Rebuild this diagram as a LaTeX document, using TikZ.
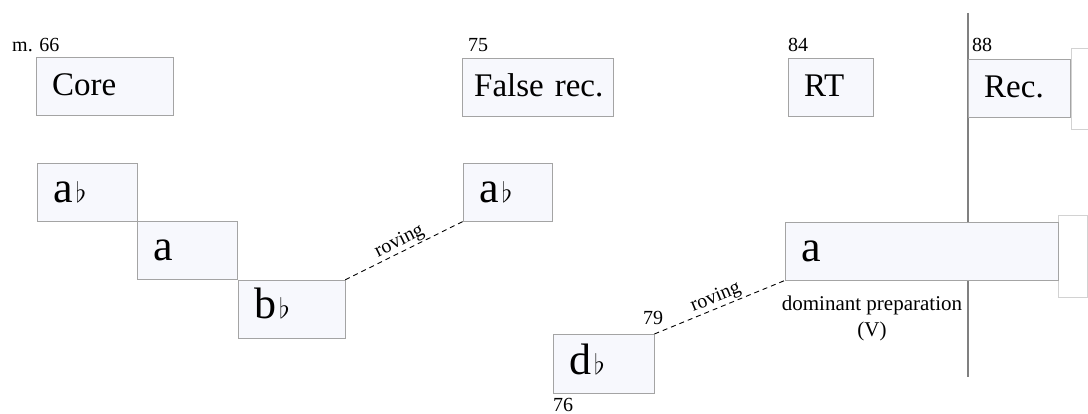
\documentclass[tikz,border=0pt]{standalone}
\usepackage{amssymb}
\usepackage{fix-cm}
\usepackage{fontspec}
\setmainfont{Liberation Serif}
\usetikzlibrary{positioning}

\definecolor{segfill}{HTML}{F7F8FD}
\definecolor{segline}{HTML}{A4A4A4}
\definecolor{ghostline}{HTML}{D2D2D2}
\definecolor{barline}{HTML}{808080}

\newcommand{\flt}{\hspace{3pt}{\fontsize{28}{28}\selectfont$\flat$}}

\tikzset{
    seg/.style={draw=segline, fill=segfill, anchor=north west,
        inner xsep=16pt, inner ysep=0pt, text height=38pt, text depth=20pt,
        text width=#1, align=left, font=\fontsize{33}{38}\selectfont},
    key/.style={font=\fontsize{44}{48}\selectfont, text height=39pt, text depth=19pt},
    ghost/.style={draw=ghostline, fill=white, anchor=north west, inner sep=0pt},
    mlabel/.style={font=\fontsize{20}{26}\selectfont, inner sep=0pt},
    rove/.style={dash pattern=on 5pt off 4pt, line width=0.9pt},
}

\begin{document}
\begin{tikzpicture}[x=1pt, y=-1pt]
    \useasboundingbox (0,0) rectangle (1088,414);

        % --- 分界竖线 ---
        \coordinate (bartop) at (968,13);
        \coordinate (barbot) at (968,377);
        \draw[barline, line width=1.1pt] (bartop) -- (barbot);

        % --- 第一行: 段落名称 ---
        \node[seg=105pt] (core) at (36,57) {Core};
        \node[seg=127pt, inner xsep=12pt] (falserec) at (462,58) {False~rec.};
        \node[seg=53pt] (rt) at (788,58) {RT};
        \node[ghost, minimum width=40pt, minimum height=81pt] (nextup) at (1071,48) {};
        \node[seg=70pt] (rec) at (968,59) {Rec.};

        % 小节号
        \node[mlabel, anchor=base west] (m66) at (12,52) {m. 66};
        \node[mlabel, anchor=base west] (m75) at (468,52) {75};
        \node[mlabel, anchor=base west] (m84) at (788,52) {84};
        \node[mlabel, anchor=base west] (m88) at (972,52) {88};

        % --- 调性阶梯 ---
        \node[seg=68pt, key] (aflat) at (37,163) {a\flt};
        \node[seg=68pt, key, below right=0pt and 0pt of aflat] (anat) {a};
        \node[seg=75pt, key, below right=0pt and 0pt of anat] (bflat) {b\flt};

        \node[seg=57pt, key] (aflatb) at (463,163) {a\flt};

        \node[seg=69pt, key, text height=40pt, text depth=19pt] (dflat) at (553,334) {d\flt};
        \node[ghost, minimum width=29pt, minimum height=82pt] (nextdown) at (1058,215) {};
        \node[seg=241pt, key] (adom) at (785,222) {a};

        \node[mlabel, anchor=base] (m79) at (653,325) {79};
        \node[mlabel, anchor=base west] (m76) at (553,411) {76};
        \node[mlabel, anchor=north, align=center, font=\fontsize{21}{26}\selectfont] (dompre) at (872,296) {dominant preparation\\(V)};

        % 游移过渡 (虚线)
        \draw[rove] (bflat.north east) -- node[mlabel, sloped, above, inner sep=1pt] {roving} (aflatb.south west);
        \draw[rove] (dflat.north east) -- node[mlabel, sloped, above, inner sep=1pt] {roving} (adom.south west);

    \end{tikzpicture}
\end{document}
